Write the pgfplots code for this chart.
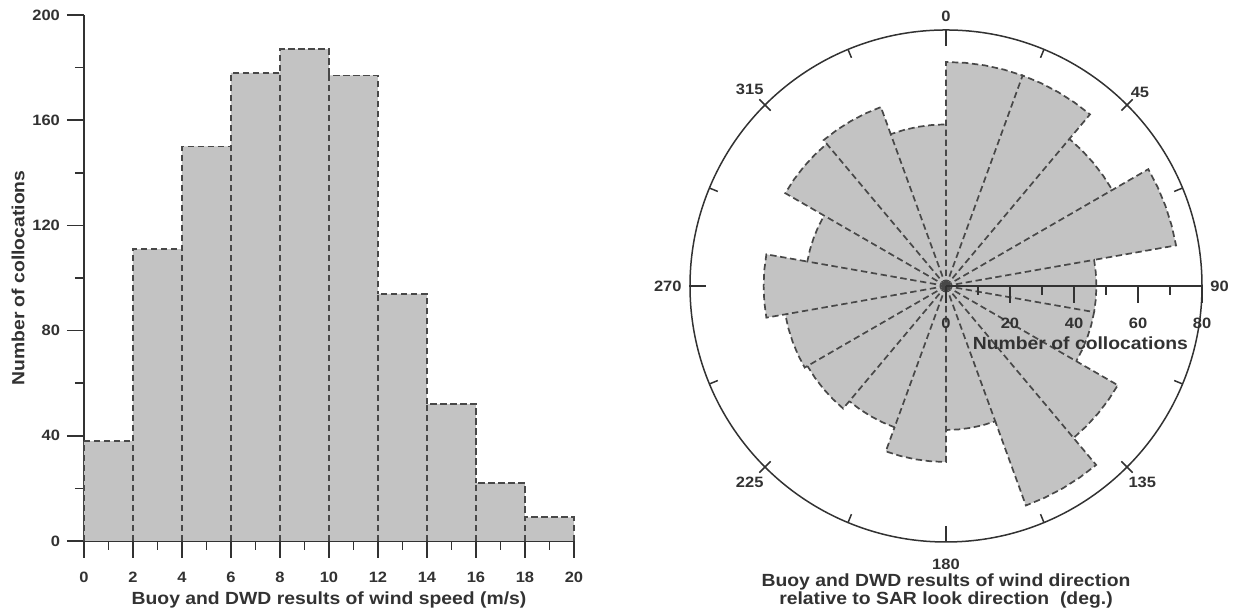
\documentclass[border=0pt]{standalone}
\usepackage{fontspec}
\setmainfont{Liberation Sans}[FakeStretch=1.1]
\usepackage{pgfplots}
\usepackage{pgfplotstable}
\pgfplotsset{compat=1.18}
\usepgfplotslibrary{polar}

\definecolor{barfill}{RGB}{195,195,195}
\definecolor{edge}{RGB}{72,72,72}
\definecolor{ink}{RGB}{50,50,50}

% wind speed histogram: bin start, count (last row closes the last bin)
\pgfplotstableread{
x count
0 38
2 111
4 150
6 178
8 187
10 177
12 94
14 52
16 22
18 9
20 9
}\speeddata

% wind direction rose: sector start (deg, clockwise from 0), count
\pgfplotstableread{
start count
0 70
20 70
40 60
60 73
80 47
100 47
120 62
140 73
160 45
180 55
200 47
220 50
240 51
260 57
280 44
300 58
320 59.5
340 50.5
}\rosedata

\newcommand\tickfont{\bfseries\fontsize{7.5}{9}\selectfont}
\newcommand\labfont{\bfseries\fontsize{8.8}{9}\selectfont}

\pgfplotsset{
  sectorfill/.style={fill=barfill, draw=none},
  dashedge/.style={fill=none, draw=edge, line width=0.85pt, dash pattern=on 3.2pt off 1.8pt},
}

\begin{document}
\begin{tikzpicture}[x=1pt,y=1pt]
\path[use as bounding box] (0,0) rectangle (619.5,306.5);
\begin{axis}[
  at={(42pt,36pt)}, anchor=south west,
  scale only axis, width=245pt, height=263pt,
  xmin=0, xmax=20, ymin=0, ymax=200,
  axis lines*=left,
  axis line style={draw=ink, line width=0.75pt, -},
  tick align=outside,
  xtick={0,2,...,20}, minor xtick={1,3,...,19},
  ytick={0,40,...,200}, minor ytick={20,60,...,180},
  major tick length=8.5pt, minor tick length=4.5pt,
  every tick/.append style={draw=ink, line width=0.75pt},
  tick label style={font=\tickfont, text=ink},
  xticklabel style={yshift=-3.5pt},
  /pgf/number format/assume math mode=true,
  xlabel={Buoy and DWD results of wind speed (m/s)},
  ylabel={Number of collocations},
  every axis x label/.style={at={(axis description cs:0.5,0)}, anchor=center, yshift=-29.5pt, font=\labfont, text=ink},
  every axis y label/.style={at={(axis description cs:0,0.5)}, anchor=center, xshift=-33pt, rotate=90, font=\labfont, text=ink},
  clip=false,
]
\addplot[ybar interval, fill=barfill, draw=none] table[x=x, y=count] {\speeddata};
\pgfplotsinvokeforeach{0,...,9}{
  \pgfplotstablegetelem{#1}{x}\of\speeddata \let\xa=\pgfplotsretval
  \pgfplotstablegetelem{#1}{count}\of\speeddata \let\h=\pgfplotsretval
  \pgfmathtruncatemacro\nx{#1+1}
  \pgfplotstablegetelem{\nx}{x}\of\speeddata \let\xb=\pgfplotsretval
  \ifnum#1=9 \def\hn{0}\else \pgfplotstablegetelem{\nx}{count}\of\speeddata \let\hn=\pgfplotsretval \fi
  \pgfmathsetmacro\m{min(\h,\hn)}
  \edef\cmd{\noexpand\addplot[dashedge] coordinates {(\xa,0) (\xa,\h) (\xb,\h) (\xb,\m)};}
  \cmd
}
\end{axis}

\begin{polaraxis}[
  at={(473pt,163.5pt)}, anchor=center,
  scale only axis, width=256pt, height=256pt,
  ymin=0, ymax=80,
  xtick={0,90,180,270},
  xticklabels={90,0,270,{\rule{0pt}{9.5pt}180}},
  minor xtick={22.5,67.5,...,337.5},
  extra x ticks={45,135,225,315},
  extra x tick labels={45,315,225,135},
  extra x tick style={tick align=center, xticklabel style={inner sep=5.5pt}},
  ytick=\empty,
  grid=none,
  axis line style={draw=ink, line width=0.75pt},
  tick align=outside,
  major tick length=8pt, minor tick length=4.5pt,
  every tick/.append style={draw=ink, line width=0.75pt},
  tick label style={font=\tickfont, text=ink},
  xticklabel style={inner sep=12pt},
  clip=false,
]
\pgfplotsinvokeforeach{0,...,17}{
  \pgfplotstablegetelem{#1}{start}\of\rosedata \let\s=\pgfplotsretval
  \pgfplotstablegetelem{#1}{count}\of\rosedata \let\r=\pgfplotsretval
  \pgfmathsetmacro\pa{70-\s}\pgfmathsetmacro\pb{75-\s}\pgfmathsetmacro\pc{80-\s}
  \pgfmathsetmacro\pd{85-\s}\pgfmathsetmacro\pe{90-\s}
  \edef\cmd{\noexpand\addplot[sectorfill] coordinates {(0,0) (\pe,\r) (\pd,\r) (\pc,\r) (\pb,\r) (\pa,\r) (0,0)};}
  \cmd
}
\pgfplotsinvokeforeach{0,...,17}{
  \pgfplotstablegetelem{#1}{start}\of\rosedata \let\s=\pgfplotsretval
  \pgfplotstablegetelem{#1}{count}\of\rosedata \let\r=\pgfplotsretval
  \pgfmathtruncatemacro\nx{mod(#1+1,18)}
  \pgfplotstablegetelem{\nx}{count}\of\rosedata \let\rn=\pgfplotsretval
  \pgfmathsetmacro\m{min(\r,\rn)}
  \pgfmathsetmacro\pa{70-\s}\pgfmathsetmacro\pb{75-\s}\pgfmathsetmacro\pc{80-\s}
  \pgfmathsetmacro\pd{85-\s}\pgfmathsetmacro\pe{90-\s}
  \edef\cmd{\noexpand\addplot[dashedge] coordinates {(\pe,0) (\pe,\r) (\pd,\r) (\pc,\r) (\pb,\r) (\pa,\r) (\pa,\m)};}
  \cmd
}
\draw[ink, line width=0.95pt] (axis cs:0,0) -- (axis cs:0,80);
\pgfplotsinvokeforeach{0,20,40,60,80}{
  \draw[ink, line width=0.85pt] (axis cs:0,#1) -- ++(0,-8.5pt);
  \node[ink, font=\tickfont] at ([yshift=-18.5pt]axis cs:0,#1) {#1};
}
\pgfplotsinvokeforeach{10,30,50,70}{
  \draw[ink, line width=0.85pt] (axis cs:0,#1) -- ++(0,-4.5pt);
}
\node[ink, font=\labfont] at ([yshift=-28.5pt]axis cs:0,42) {Number of collocations};
\end{polaraxis}
\node[ink, font=\labfont, align=center] at (473,10.75) {Buoy and DWD results of wind direction\\relative to SAR look direction\ \ (deg.)};
\end{tikzpicture}
\end{document}
